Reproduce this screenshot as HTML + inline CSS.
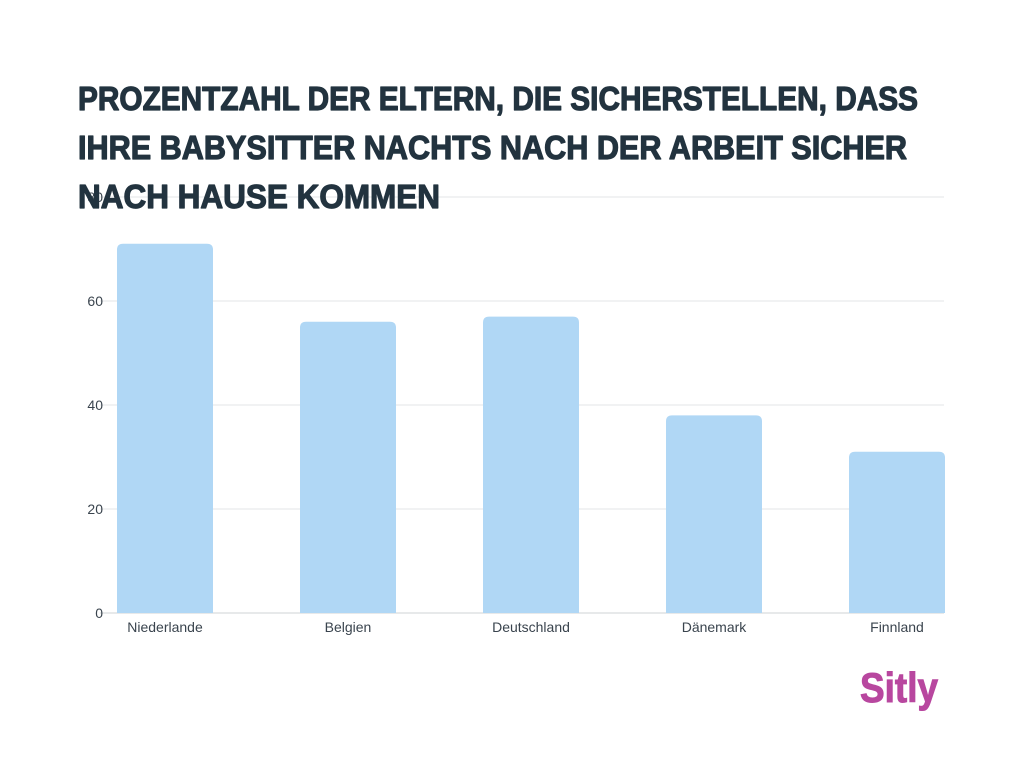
<!DOCTYPE html>
<html><head><meta charset="utf-8"><style>
html,body{margin:0;padding:0;background:#fff;}
svg{display:block;font-family:"Liberation Sans",sans-serif;}
</style></head><body>
<svg id="chart" width="1024" height="768" viewBox="0 0 1024 768">
<g id="grid"></g>
<g id="bars"></g>
<g id="ylabels"></g>
<g id="xlabels"></g>
<g fill="#22333f" stroke="#22333f" stroke-width="1.2" stroke-linejoin="round" font-weight="bold" font-size="33" font-family="'Liberation Sans Narrow','Liberation Sans',sans-serif">
<text x="78" y="110" textLength="840" lengthAdjust="spacingAndGlyphs">PROZENTZAHL DER ELTERN, DIE SICHERSTELLEN, DASS</text>
<text x="78" y="159" textLength="829" lengthAdjust="spacingAndGlyphs">IHRE BABYSITTER NACHTS NACH DER ARBEIT SICHER</text>
<text x="78" y="208" textLength="362" lengthAdjust="spacingAndGlyphs">NACH HAUSE KOMMEN</text>
</g>
<text x="860" y="702" textLength="78" lengthAdjust="spacingAndGlyphs" font-size="42" font-weight="bold" fill="#b8479f" stroke="#b8479f" stroke-width="1">Sitly</text>
</svg>
<script>
const categories=["Niederlande","Belgien","Deutschland","Dänemark","Finnland"];
const values=[71,56,57,38,31];
const yTicks=[0,20,40,60,80];
const NS="http://www.w3.org/2000/svg";
const y0=613,pxPerUnit=5.2;
function yScale(v){return y0-v*pxPerUnit;}
function xCenter(i){return 165+i*183;}
const bw=96;
const grid=document.getElementById('grid'),bars=document.getElementById('bars'),yl=document.getElementById('ylabels'),xl=document.getElementById('xlabels');
yTicks.forEach(t=>{
  const l=document.createElementNS(NS,'line');
  l.setAttribute('x1',100);l.setAttribute('x2',944);
  l.setAttribute('y1',yScale(t));l.setAttribute('y2',yScale(t));
  l.setAttribute('stroke',t===0?'#cfd3d6':'#e3e5e7');l.setAttribute('stroke-width',1);
  
  
  grid.appendChild(l);
  const tx=document.createElementNS(NS,'text');
  tx.setAttribute('x',103);tx.setAttribute('y',yScale(t)+5);
  tx.setAttribute('text-anchor','end');tx.setAttribute('font-size','14');tx.setAttribute('fill','#3a444e');
  tx.textContent=t;
  
  
  yl.appendChild(tx);
});
categories.forEach((c,i)=>{
  const x=xCenter(i)-bw/2,y=yScale(values[i]),r=6;
  const p=document.createElementNS(NS,'path');
  p.setAttribute('d',`M${x},${y0}V${y+r}Q${x},${y} ${x+r},${y}H${x+bw-r}Q${x+bw},${y} ${x+bw},${y+r}V${y0}Z`);
  p.setAttribute('fill','#b0d7f5');
  
  
  bars.appendChild(p);
  const tx=document.createElementNS(NS,'text');
  tx.setAttribute('x',xCenter(i));tx.setAttribute('y',632);
  tx.setAttribute('text-anchor','middle');tx.setAttribute('font-size','14');tx.setAttribute('fill','#3a444e');
  tx.textContent=c;
  
  
  xl.appendChild(tx);
});
</script>
</body></html>
